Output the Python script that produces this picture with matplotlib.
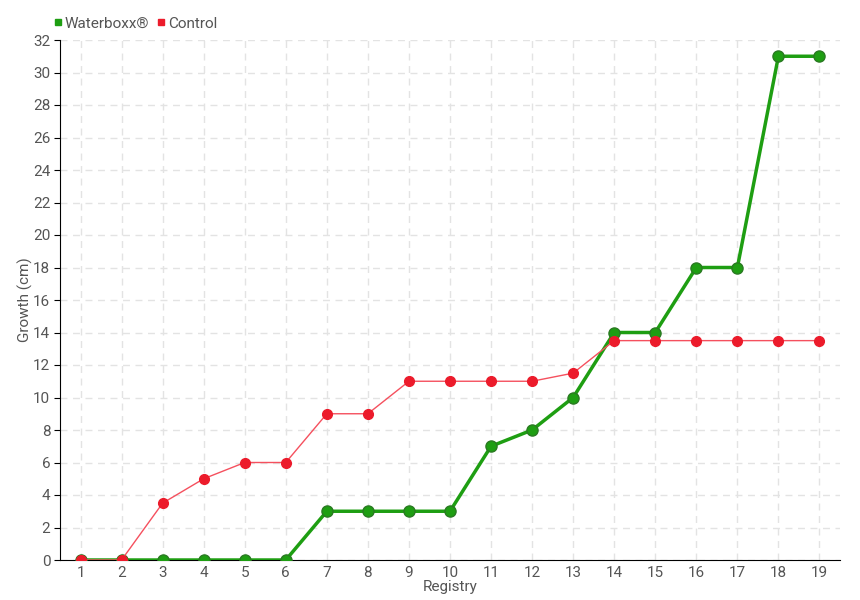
import numpy as np
import matplotlib.pyplot as plt

registry = list(range(1, 20))
waterboxx = [0, 0, 0, 0, 0, 0, 3, 3, 3, 3, 7, 8, 10, 14, 14, 18, 18, 31, 31]
control = [0, 0, 3.5, 5, 6, 6, 9, 9, 11, 11, 11, 11, 11.5, 13.5, 13.5, 13.5, 13.5, 13.5, 13.5]

plt.rcParams['font.family'] = ['Liberation Sans Narrow', 'Roboto', 'DejaVu Sans']

fig = plt.figure(figsize=(8.6, 6), dpi=100)
ax = fig.add_axes([60 / 860, 40 / 600, 780 / 860, 520 / 600])

green = '#1e9e12'
red = '#ec1b2b'
txt = '#555555'

ax.plot(registry, waterboxx, color=green, lw=2.5, marker='o', ms=8,
        markeredgecolor='#2a7a22', markeredgewidth=1, label='Waterboxx®', zorder=3)
ax.plot(registry, control, color='#f5505e', lw=1, marker='o', ms=7,
        markerfacecolor=red, markeredgecolor=red, label='Control', zorder=4)

ax.set_xlim(0.5, 19.5)
ax.set_ylim(0, 32)
ax.set_xticks(registry)
ax.set_yticks(np.arange(0, 33, 2))
ax.grid(True, color='#e3e3e3', linestyle=(0, (5, 4)), lw=1)
ax.set_axisbelow(True)

for s in ['top', 'right']:
    ax.spines[s].set_visible(False)
ax.tick_params(axis='both', colors='black', labelcolor=txt, labelsize=11, length=4, pad=3)
ax.tick_params(axis='x', length=0, pad=4)

ax.set_xlabel('Registry', color=txt, fontsize=11, labelpad=0)
ax.set_ylabel('Growth (cm)', color=txt, fontsize=11)
ax.yaxis.set_label_coords(-27 / 780, 0.5)

h1 = plt.Line2D([], [], color=green, marker='s', ls='', ms=5)
h2 = plt.Line2D([], [], color=red, marker='s', ls='', ms=5)
fig.legend([h1, h2], ['Waterboxx®', 'Control'], loc='upper left',
           bbox_to_anchor=(44 / 860, 1 - 9 / 600), ncol=2, frameon=False,
           fontsize=11, labelcolor=txt, handletextpad=0.05,
           columnspacing=0.4, handlelength=0.8, borderpad=0)

fig.savefig('out.png', dpi=100)
